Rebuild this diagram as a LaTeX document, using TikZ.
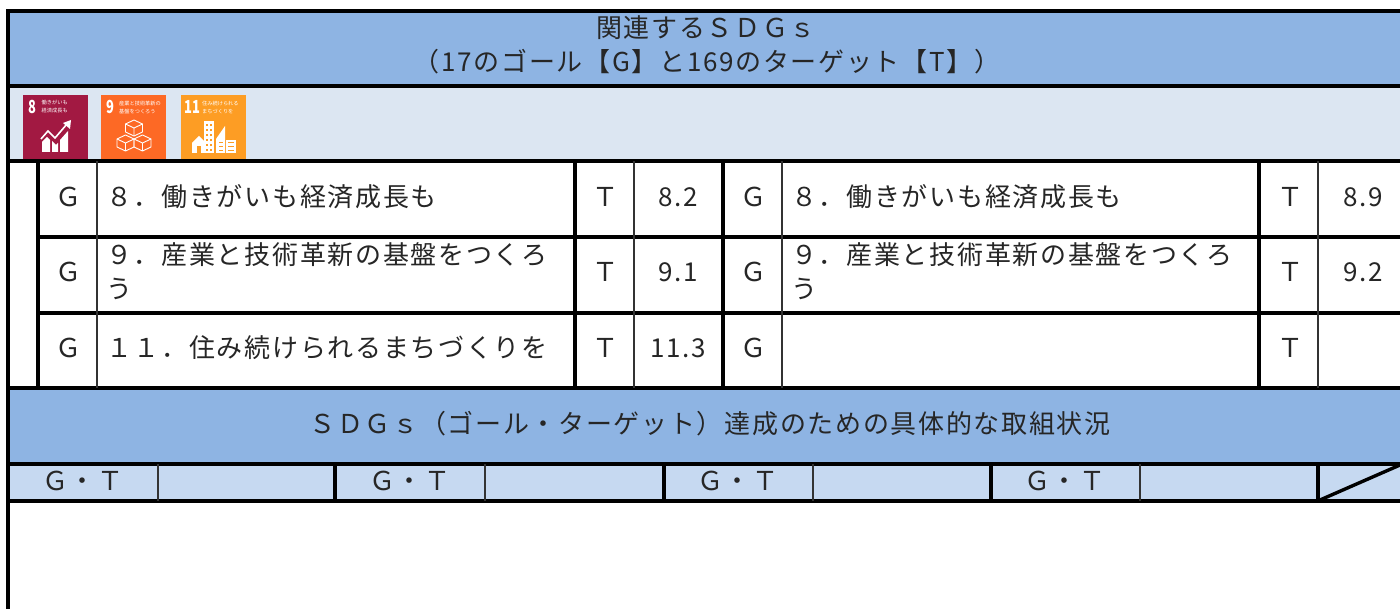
\documentclass[tikz,border=0pt]{standalone}
\usepackage{fontspec}
\newfontfamily\jp[LetterSpace=6.5]{Noto Sans CJK JP}
\newfontfamily\jpt{Noto Sans CJK JP}
\definecolor{hdr}{HTML}{8EB4E3}
\definecolor{strip}{HTML}{DCE6F2}
\definecolor{rowc}{HTML}{C6D9F1}
\definecolor{sdgeight}{HTML}{A21942}
\definecolor{sdgnine}{HTML}{FD6925}
\definecolor{sdgeleven}{HTML}{FD9D24}
\tikzset{
  txt/.style={inner sep=0pt,text=black!85,font=\jp\fontsize{26}{34}\selectfont},
  ltxt/.style={txt,anchor=west},
  ctxt/.style={txt,anchor=center,align=center},
  heavy/.style={line width=3.4pt,black},
  thin line/.style={line width=1.4pt,black!80},
  tinyt/.style={inner sep=0pt,anchor=west,text=white,align=left,font=\jpt\fontsize{5.2}{8}\selectfont},
  bignum/.style={inner sep=0pt,text=white,xscale=.72,font=\jpt\bfseries\fontsize{18}{18}\selectfont},
  icon/.style={line width=.9pt,white},
}
\begin{document}
\begin{tikzpicture}[x=1pt,y=-1pt]
\useasboundingbox (0,0) rectangle (1400,609);
\fill[white] (0,0) rectangle (1400,609);
% bands
\fill[hdr] (8,11) rectangle (1400,86);
\fill[strip] (8,86) rectangle (1400,161);
\fill[hdr] (8,388) rectangle (1400,464);
\fill[rowc] (8,464) rectangle (1400,501);
% SDG icons
\fill[sdgeight] (23,95) rectangle (88,160);
\fill[sdgnine] (101,95) rectangle (166,160);
\fill[sdgeleven] (181,95) rectangle (246,160);
\node[bignum] (n8) at (32,107) {8};
\node[bignum] (n9) at (110.5,107) {9};
\node[bignum] (n11) at (192.5,107) {11};
\node[tinyt] (t8) at (41.5,107) {働きがいも\\経済成長も};
\node[tinyt] (t9) at (119,107) {産業と技術革新の\\基盤をつくろう};
\node[tinyt] (t11) at (202,107) {住み続けられる\\まちづくりを};
% icon 8: chart
\fill[white] (42,152) -- (42,142) -- (47,137) -- (50,140) -- (50,152) -- cycle;
\fill[white] (52,152) -- (52,141) -- (56,145) -- (58,143) -- (58,152) -- cycle;
\fill[white] (60,152) -- (60,140) -- (68,131) -- (68,152) -- cycle;
\draw[white,line width=1.6pt] (41,139) -- (48,131) -- (55,138) -- (67,124);
\fill[white] (71,120) -- (70,129) -- (63,123) -- cycle;
% icon 9: cubes
\begin{scope}[icon,line join=round]
\foreach \cx/\cy in {134/128,125.5/143,142.5/143}{
  \draw (\cx-8.5,\cy-4) -- (\cx,\cy-8) -- (\cx+8.5,\cy-4) -- (\cx+8.5,\cy+4) -- (\cx,\cy+8) -- (\cx-8.5,\cy+4) -- cycle;
  \draw (\cx-8.5,\cy-4) -- (\cx,\cy) -- (\cx+8.5,\cy-4) (\cx,\cy) -- (\cx,\cy+8);
}
\end{scope}
% icon 11: buildings
\fill[white] (192,153) -- (192,143) -- (199,136) -- (206,143) -- (206,153) -- cycle;
\fill[white] (204,121) rectangle (214,153);
\fill[white] (216,153) -- (216,139) -- (225,126) -- (225,153) -- cycle;
\fill[white] (226,140) rectangle (236,153);
\foreach \yy in {124,129,134,139,144,149}{
  \fill[sdgeleven] (206,\yy) rectangle (208,\yy+2);
  \fill[sdgeleven] (210,\yy) rectangle (212,\yy+2);
}
\foreach \yy in {142,146,150}{
  \fill[sdgeleven] (219,\yy) rectangle (223,\yy+1);
  \fill[sdgeleven] (228,\yy) rectangle (234,\yy+1);
}
\fill[sdgeleven] (197,146) rectangle (201,153);
% rules
\draw[heavy] (8,609) -- (8,11) -- (1400,11);
\foreach \yy in {86,161,388,464,501}{ \draw[heavy] (8,\yy) -- (1400,\yy); }
\foreach \yy in {237,313}{ \draw[heavy] (38,\yy) -- (1400,\yy); }
\foreach \xx in {38,575,723,1259}{ \draw[heavy] (\xx,161) -- (\xx,388); }
\foreach \xx in {97,634,782,1318}{ \draw[thin line] (\xx,161) -- (\xx,388); }
\foreach \xx in {335,664,991,1318}{ \draw[heavy] (\xx,464) -- (\xx,501); }
\foreach \xx in {158,485,813,1140}{ \draw[thin line] (\xx,464) -- (\xx,501); }
\coordinate (da) at (1320,500);
\coordinate (db) at (1400,465);
\draw[heavy] (da) -- (db);
% titles
\node[ctxt] (title1) at (706,28) {関連するＳＤＧｓ};
\node[ctxt] (title2) at (707,62) {（17のゴール【G】と169のターゲット【T】）};
\node[ctxt] (title3) at (710,424) {ＳＤＧｓ（ゴール・ターゲット）達成のための具体的な取組状況};
% rows
\foreach \nm/\yy in {a/197,b/272,c/348}{
  \node[ctxt] (g1\nm) at (68,\yy) {Ｇ};
  \node[ctxt] (t1\nm) at (605,\yy) {Ｔ};
  \node[ctxt] (g2\nm) at (753,\yy) {Ｇ};
  \node[ctxt] (t2\nm) at (1290,\yy) {Ｔ};
}
\node[ltxt] (l1a) at (106,197) {８．働きがいも経済成長も};
\node[ltxt] (l2a) at (791,197) {８．働きがいも経済成長も};
\node[ltxt] (l1b1) at (106,255) {９．産業と技術革新の基盤をつくろ};
\node[ltxt] (l1b2) at (106,289) {う};
\node[ltxt] (l2b1) at (791,255) {９．産業と技術革新の基盤をつくろ};
\node[ltxt] (l2b2) at (791,289) {う};
\node[ltxt] (l1c) at (106,348) {１１．住み続けられるまちづくりを};
\node[ctxt] (v1) at (678,197) {8.2};
\node[ctxt] (v2) at (1363,197) {8.9};
\node[ctxt] (v3) at (678,272) {9.1};
\node[ctxt] (v4) at (1363,272) {9.2};
\node[ctxt] (v5) at (678,348) {11.3};
% bottom row labels
\node[ctxt] (q1) at (83,481) {Ｇ・Ｔ};
\node[ctxt] (q2) at (410,481) {Ｇ・Ｔ};
\node[ctxt] (q3) at (738,481) {Ｇ・Ｔ};
\node[ctxt] (q4) at (1065,481) {Ｇ・Ｔ};
\end{tikzpicture}
\end{document}
